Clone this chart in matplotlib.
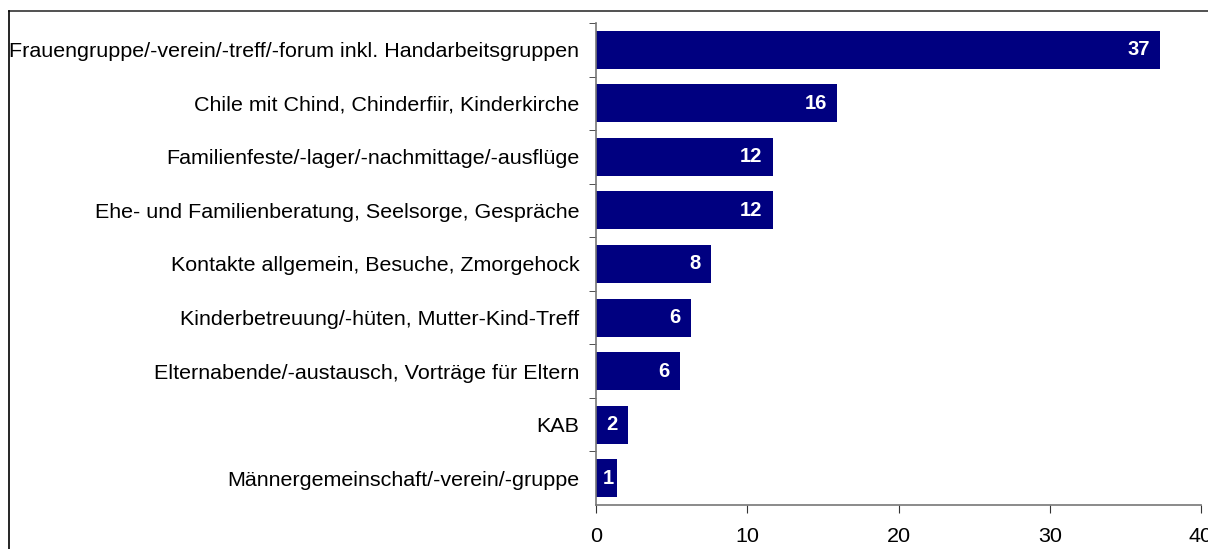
import matplotlib.pyplot as plt
from matplotlib.lines import Line2D

plt.rcParams['font.family'] = ['Liberation Sans', 'DejaVu Sans']

categories = [
    "Frauengruppe/-verein/-treff/-forum inkl. Handarbeitsgruppen",
    "Chile mit Chind, Chinderfiir, Kinderkirche",
    "Familienfeste/-lager/-nachmittage/-ausflüge",
    "Ehe- und Familienberatung, Seelsorge, Gespräche",
    "Kontakte allgemein, Besuche, Zmorgehock",
    "Kinderbetreuung/-hüten, Mutter-Kind-Treff",
    "Elternabende/-austausch, Vorträge für Eltern",
    "KAB",
    "Männergemeinschaft/-verein/-gruppe",
]
values = [37.3, 15.95, 11.7, 11.7, 7.6, 6.3, 5.55, 2.1, 1.4]
value_labels = ["37", "16", "12", "12", "8", "6", "6", "2", "1"]
x_ticks = [0, 10, 20, 30, 40]

fig = plt.figure(figsize=(12.08, 5.49), dpi=100)
ax = fig.add_axes([596 / 1208, 1 - 505 / 549, (1201 - 596) / 1208, (505 - 23) / 549])

pos = list(range(len(categories)))
ax.barh(pos, values, height=0.71, color="#000080")
ax.set_ylim(len(categories) - 0.5, -0.5)
ax.set_xlim(0, 40)

for p, v, lab in zip(pos, values, value_labels):
    if v < 2:
        # too narrow: Excel centres the label in the bar
        ax.text(v / 2 + 0.1, p, lab, ha="center", va="center", color="white",
                fontweight="bold", fontsize=14.5)
    else:
        ax.annotate(lab, (v, p), xytext=(-7.5, 0), textcoords="offset points",
                    ha="right", va="center", color="white", fontweight="bold",
                    fontsize=14.5)

ax.set_yticks(pos)
ax.set_yticklabels(categories, fontsize=15.45)
ax.set_yticks([p + 0.5 for p in pos[:-1]] + [-0.5], minor=True)
ax.tick_params(axis="y", which="major", length=0, pad=12)
ax.tick_params(axis="y", which="minor", length=5, direction="out", color="#333333")
ax.set_xticks(x_ticks)
ax.tick_params(axis="x", labelsize=15.45, length=6, color="#333333", pad=10)

for side in ["top", "right"]:
    ax.spines[side].set_visible(False)
for side in ["left", "bottom"]:
    ax.spines[side].set_color("#777777")
    ax.spines[side].set_linewidth(1.2)

# outer frame of the chart area
fig.add_artist(Line2D([9 / 1208, 1], [1 - 11 / 549, 1 - 11 / 549],
                      transform=fig.transFigure, color="#333333", lw=1.2))
fig.add_artist(Line2D([9 / 1208, 9 / 1208], [0, 1 - 11 / 549],
                      transform=fig.transFigure, color="black", lw=1.2))

fig.savefig("out.png", dpi=100)
